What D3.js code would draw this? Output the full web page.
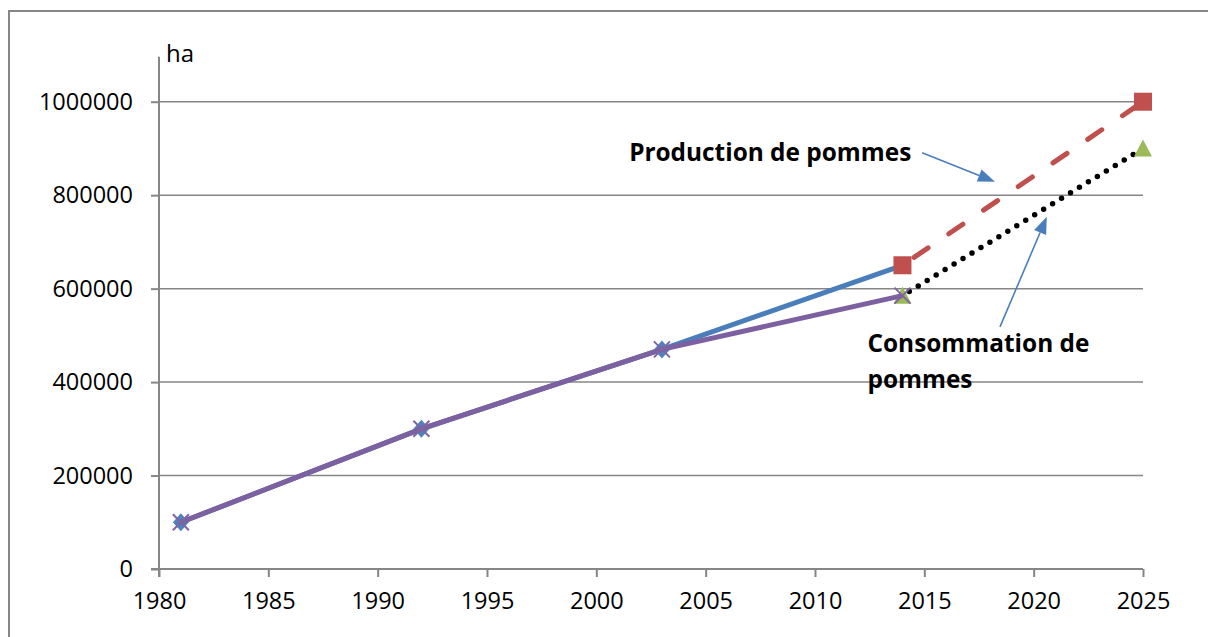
<!DOCTYPE html>
<html lang="fr">
<head>
    <meta charset="UTF-8">
    <title>Pommes</title>
    <script src="https://d3js.org/d3.v7.min.js"></script>
    <style>
        body { margin: 0; background: #fff; }
        text { font-family: 'Open Sans', sans-serif; fill: #000; }
        text.note { font-weight: bold; font-size: 24.4px; }
    </style>
</head>
<body>
<svg width="1208" height="637"></svg>
<script>
    // data
    const years = [1981, 1992, 2003, 2014];
    const production = [100000, 300000, 470000, 650000];
    const consommation = [100000, 300000, 470000, 585000];
    const projYears = [2014, 2025];
    const productionProj = [650000, 1000000];
    const consommationProj = [585000, 900000];
    const yearTicks = [1980, 1985, 1990, 1995, 2000, 2005, 2010, 2015, 2020, 2025];
    const valueTicks = [0, 200000, 400000, 600000, 800000, 1000000];

    const svg = d3.select("svg");
    const x = d3.scaleLinear().domain([1980, 2025]).range([159, 1143]);
    const y = d3.scaleLinear().domain([0, 1100000]).range([569, 55]);
    const grey = "#868686";

    // outer frame
    svg.append("rect").attr("x", 9).attr("y", 11).attr("width", 1300).attr("height", 700)
        .attr("fill", "none").attr("stroke", grey).attr("stroke-width", 2);

    // gridlines
    svg.append("g").selectAll("line").data(valueTicks.slice(1)).enter().append("line")
        .attr("x1", x(1980)).attr("x2", x(2025))
        .attr("y1", y).attr("y2", y)
        .attr("stroke", grey).attr("stroke-width", 1.5);

    const yAxis = svg.append("g").attr("transform", `translate(${x(1980)},0)`)
        .call(d3.axisLeft(y).tickValues(valueTicks).tickSizeInner(8).tickSizeOuter(0).tickPadding(18).tickFormat(d3.format("d")));
    const xAxis = svg.append("g").attr("transform", `translate(0,${y(0)})`)
        .call(d3.axisBottom(x).tickValues(yearTicks).tickSizeInner(8).tickSizeOuter(0).tickPadding(16).tickFormat(d3.format("d")));
    [xAxis, yAxis].forEach(a => {
        a.select(".domain").attr("stroke", grey).attr("stroke-width", 2);
        a.selectAll(".tick line").attr("stroke", grey).attr("stroke-width", 2);
        a.selectAll(".tick text").style("font-size", "23.5px").style("font-family", "'Open Sans', sans-serif");
    });
    yAxis.select(".domain").attr("d", `M0,${y(1096000)}V${y(0) + 8}`);
    xAxis.select(".domain").attr("d", `M${x(1980) - 8},0H${x(2025)}`);
    xAxis.selectAll(".tick text").attr("dy", "0.68em");

    svg.append("text").attr("x", 166).attr("y", 62).style("font-size", "24px").text("ha");

    const line = d3.line().x(d => x(d[0])).y(d => y(d[1]));
    const pts = (xs, vs) => xs.map((v, i) => [v, vs[i]]);

    // production (blue)
    svg.append("path").datum(pts(years, production)).attr("d", line)
        .attr("fill", "none").attr("stroke", "#4a7ebb").attr("stroke-width", 5);
    svg.append("g").selectAll("path").data(pts(years, production).slice(0, 3)).enter().append("path")
        .attr("transform", d => `translate(${x(d[0])},${y(d[1])})`)
        .attr("d", "M0,-9L8,0L0,9L-8,0Z").attr("fill", "#4f81bd");

    // production projection (red dashed)
    svg.append("path").datum(pts(projYears, productionProj)).attr("d", line)
        .attr("fill", "none").attr("stroke", "#c0504d").attr("stroke-width", 5)
        .attr("stroke-dasharray", "17 25").attr("stroke-dashoffset", -14).attr("stroke-linecap", "round");
    svg.append("g").selectAll("rect").data(pts(projYears, productionProj)).enter().append("rect")
        .attr("x", d => x(d[0]) - 9).attr("y", d => y(d[1]) - 9)
        .attr("width", 18).attr("height", 18).attr("fill", "#c0504d");

    // consommation projection (black dotted, green triangles)
    svg.append("path").datum(pts(projYears, consommationProj)).attr("d", line)
        .attr("fill", "none").attr("stroke", "#000").attr("stroke-width", 5.5)
        .attr("stroke-dasharray", "0 10.5").attr("stroke-dashoffset", -8).attr("stroke-linecap", "round");
    svg.append("g").selectAll("path").data(pts(projYears, consommationProj)).enter().append("path")
        .attr("transform", d => `translate(${x(d[0])},${y(d[1])})`)
        .attr("d", "M0,-9L9,8L-9,8Z").attr("fill", "#9bbb59");

    // consommation (purple)
    svg.append("path").datum(pts(years, consommation)).attr("d", line)
        .attr("fill", "none").attr("stroke", "#7d60a0").attr("stroke-width", 5);
    svg.append("g").selectAll("path").data(pts(years, consommation)).enter().append("path")
        .attr("transform", d => `translate(${x(d[0])},${y(d[1])})`)
        .attr("d", "M-8,-8L8,8M-8,8L8,-8").attr("stroke", "#8064a2").attr("stroke-width", 2);

    // annotations
    function arrow(x0, y0, x1, y1) {
        const ang = Math.atan2(y1 - y0, x1 - x0), L = 17, W = 6.5;
        const bx = x1 - L * Math.cos(ang), by = y1 - L * Math.sin(ang);
        svg.append("line").attr("x1", x0).attr("y1", y0).attr("x2", bx).attr("y2", by)
            .attr("stroke", "#4a7ebb").attr("stroke-width", 1.6);
        svg.append("path").attr("fill", "#4a7ebb")
            .attr("d", `M${x1},${y1}L${bx - W * Math.sin(ang)},${by + W * Math.cos(ang)}L${bx + W * Math.sin(ang)},${by - W * Math.cos(ang)}Z`);
    }
    arrow(x(2014.9), y(890800), x(2018.23), y(828700));
    arrow(x(2018.46), y(518200), x(2020.6), y(753700));

    svg.append("text").attr("class", "note").attr("x", x(2001.5)).attr("y", y(873700)).text("Production de pommes");
    svg.append("text").attr("class", "note").attr("x", x(2012.4)).attr("y", y(464700)).text("Consommation de");
    svg.append("text").attr("class", "note").attr("x", x(2012.4)).attr("y", y(387600)).text("pommes");
</script>
</body>
</html>
